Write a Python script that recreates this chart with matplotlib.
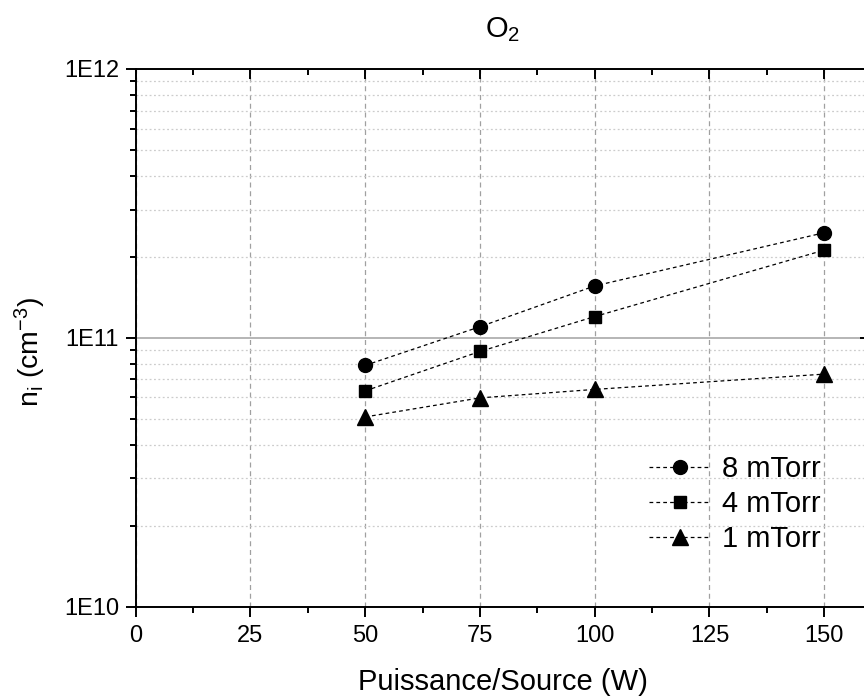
import matplotlib
matplotlib.use('Agg')
import matplotlib.pyplot as plt
import matplotlib.ticker as mticker
import numpy as np

plt.rcParams['font.family'] = 'Liberation Sans'
plt.rcParams['mathtext.fontset'] = 'custom'
plt.rcParams['mathtext.rm'] = 'Liberation Sans'
plt.rcParams['mathtext.it'] = 'Liberation Sans:italic'
plt.rcParams['mathtext.default'] = 'regular'

# data
power = [50, 75, 100, 150]
n_8mtorr = [7.9e10, 1.10e11, 1.56e11, 2.46e11]
n_4mtorr = [6.35e10, 8.9e10, 1.20e11, 2.12e11]
n_1mtorr = [5.08e10, 5.98e10, 6.43e10, 7.33e10]
labels = ['8 mTorr', '4 mTorr', '1 mTorr']

W, H = 864, 697
fig = plt.figure(figsize=(W / 100, H / 100), dpi=100)
ax = fig.add_axes([135.7 / W, 90.3 / H, 734.4 / W, 537.7 / H])

dash = (0, (3, 2.5))
series = [(n_8mtorr, 'o', 10), (n_4mtorr, 's', 9), (n_1mtorr, '^', 11.5)]
for (vals, mk, ms), lab in zip(series, labels):
    ax.plot(power, vals, color='black', linestyle=dash, linewidth=0.9,
            marker=mk, markersize=ms, markerfacecolor='black',
            markeredgecolor='black', label=lab, zorder=3)

ax.set_yscale('log')
ax.set_xlim(0, 160)
ax.set_ylim(1e10, 1e12)

ax.xaxis.set_major_locator(mticker.MultipleLocator(25))
ax.xaxis.set_minor_locator(mticker.MultipleLocator(12.5))
ax.yaxis.set_major_locator(mticker.LogLocator(base=10, numticks=5))
ax.yaxis.set_minor_locator(mticker.LogLocator(base=10, subs=np.arange(2, 10), numticks=20))
ax.yaxis.set_major_formatter(mticker.FuncFormatter(lambda v, p: '1E%d' % round(np.log10(v))))
ax.yaxis.set_minor_formatter(mticker.NullFormatter())

# grid
ax.grid(which='major', axis='x', color='#a0a0a0', linestyle=(0, (4, 3)), linewidth=0.9)
ax.grid(which='major', axis='y', color='#b0b0b0', linestyle='-', linewidth=1.3)
ax.grid(which='minor', axis='y', color='#cccccc', linestyle=(0, (1.5, 2)), linewidth=0.9)
ax.set_axisbelow(True)

for s in ax.spines.values():
    s.set_linewidth(1.4)
    s.set_color('black')

ax.tick_params(axis='both', which='major', direction='out', length=7, width=1.4,
               labelsize=17, colors='black', pad=5)
ax.tick_params(axis='both', which='minor', direction='out', length=4, width=1.4)
ax.tick_params(axis='both', which='both', top=True, right=True)
ax.tick_params(axis='x', which='major', pad=6)

# top / right ticks point inward
for t in ax.xaxis.get_major_ticks() + ax.xaxis.get_minor_ticks():
    t.tick2line.set_marker(3)
for t in ax.yaxis.get_major_ticks() + ax.yaxis.get_minor_ticks():
    t.tick2line.set_marker(0)

# title and axis labels centred on the (partly cropped) axes
fig.text(503 / W, 1 - 37 / H, 'O$_2$', fontsize=21, ha='center', va='baseline')
fig.text(503 / W, 1 - 690 / H, 'Puissance/Source (W)', fontsize=21,
         ha='center', va='baseline')
fig.text(30 / W, 1 - 352 / H, 'n$_i$ (cm$^{-3}$)', fontsize=20.5, rotation=90,
         ha='center', va='center')

leg = ax.legend(loc='upper left', bbox_to_anchor=(649 / W, 1 - 455 / H),
                bbox_transform=fig.transFigure, frameon=False, fontsize=21,
                handlelength=2.1, handletextpad=0.4, labelspacing=0.24,
                borderpad=0, borderaxespad=0, numpoints=1)

fig.savefig('out.png', dpi=100)
